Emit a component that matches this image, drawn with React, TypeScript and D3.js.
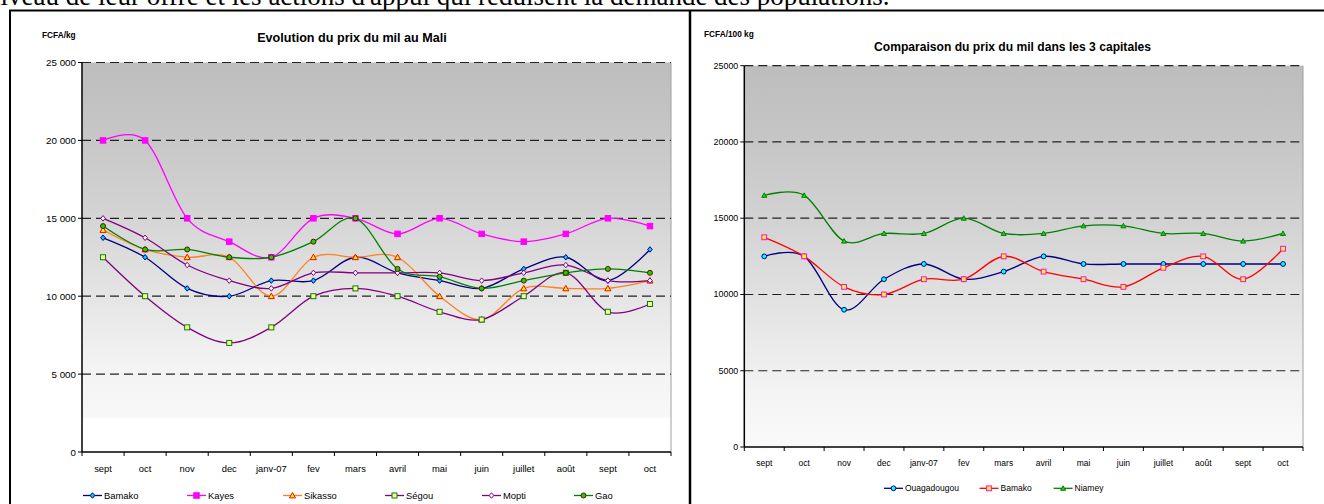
import * as d3 from "d3";

// categories (Sept 2006 -> Oct 2007)
const months = ["sept", "oct", "nov", "dec", "janv-07", "fev", "mars", "avril", "mai", "juin", "juillet", "août", "sept", "oct"];

// Evolution du prix du mil au Mali (FCFA/kg)
const bamako = [13750, 12500, 10500, 10000, 11000, 11000, 12500, 11500, 11000, 10500, 11750, 12500, 11000, 13000];
const kayes = [20000, 20000, 15000, 13500, 12500, 15000, 15000, 14000, 15000, 14000, 13500, 14000, 15000, 14500];
const sikasso = [14250, 13000, 12500, 12500, 10000, 12500, 12500, 12500, 10000, 8500, 10500, 10500, 10500, 11000];
const segou = [12500, 10000, 8000, 7000, 8000, 10000, 10500, 10000, 9000, 8500, 10000, 11500, 9000, 9500];
const mopti = [15000, 13750, 12000, 11000, 10500, 11500, 11500, 11500, 11500, 11000, 11500, 12000, 11000, 11000];
const gao = [14500, 13000, 13000, 12500, 12500, 13500, 15000, 11750, 11250, 10500, 11000, 11500, 11750, 11500];

// Comparaison du prix du mil dans les 3 capitales (FCFA/100 kg)
const ouagadougou = [12500, 12500, 9000, 11000, 12000, 11000, 11500, 12500, 12000, 12000, 12000, 12000, 12000, 12000];
const bamakoCap = [13750, 12500, 10500, 10000, 11000, 11000, 12500, 11500, 11000, 10500, 11750, 12500, 11000, 13000];
const niamey = [16500, 16500, 13500, 14000, 14000, 15000, 14000, 14000, 14500, 14500, 14000, 14000, 13500, 14000];

const yTicks = [0, 5000, 10000, 15000, 20000, 25000];

type Shape = "diamond" | "square" | "triangle" | "circle";
type Series = { name: string; values: number[]; line: string; shape: Shape; fill: string; stroke: string; size: number };

const maliSeries: Series[] = [
  { name: "Bamako", values: bamako, line: "#000080", shape: "diamond", fill: "#00ccff", stroke: "#000080", size: 5.5 },
  { name: "Kayes", values: kayes, line: "#ff00ff", shape: "square", fill: "#ff00ff", stroke: "#ff00ff", size: 5.5 },
  { name: "Sikasso", values: sikasso, line: "#ff8020", shape: "triangle", fill: "#ffff00", stroke: "#ff0000", size: 6 },
  { name: "Ségou", values: segou, line: "#800080", shape: "square", fill: "#ffff99", stroke: "#008000", size: 5 },
  { name: "Mopti", values: mopti, line: "#800080", shape: "diamond", fill: "#ffffff", stroke: "#800080", size: 5.5 },
  { name: "Gao", values: gao, line: "#008000", shape: "circle", fill: "#00dd00", stroke: "#800000", size: 5 },
];

const capSeries: Series[] = [
  { name: "Ouagadougou", values: ouagadougou, line: "#000080", shape: "circle", fill: "#00ffff", stroke: "#000080", size: 4.8 },
  { name: "Bamako", values: bamakoCap, line: "#ff0000", shape: "square", fill: "#ffff00", stroke: "#ff00ff", size: 4.8 },
  { name: "Niamey", values: niamey, line: "#008000", shape: "triangle", fill: "#22cc22", stroke: "#008000", size: 5 },
];

function Marker({ shape, x, y, size, fill, stroke }: { shape: Shape; x: number; y: number; size: number; fill: string; stroke: string }) {
  const r = size / 2;
  if (shape === "circle") return <circle cx={x} cy={y} r={r} fill={fill} stroke={stroke} strokeWidth={1} />;
  if (shape === "square") return <rect x={x - r} y={y - r} width={size} height={size} fill={fill} stroke={stroke} strokeWidth={1} />;
  if (shape === "diamond")
    return <path d={`M${x},${y - r}L${x + r * 0.85},${y}L${x},${y + r}L${x - r * 0.85},${y}Z`} fill={fill} stroke={stroke} strokeWidth={1} />;
  return <path d={`M${x},${y - r}L${x + r},${y + r * 0.8}L${x - r},${y + r * 0.8}Z`} fill={fill} stroke={stroke} strokeWidth={1} />;
}

type ChartCfg = {
  id: string;
  left: number;
  right: number;
  top: number;
  bottom: number;
  series: Series[];
  title: string;
  titleX: number;
  titleY: number;
  titleSize: number;
  unit: string;
  unitX: number;
  unitY: number;
  fontSize: number;
  yFmt: (v: number) => string;
  labelY: number;
  legendY: number;
  legendX: number[];
  whiteBand: number | null;
};

function PriceChart({ cfg }: { cfg: ChartCfg }) {
  const x = d3
    .scaleBand<string>()
    .domain(months.map((_, i) => String(i)))
    .range([cfg.left, cfg.right]);
  const y = d3.scaleLinear().domain([0, 25000]).range([cfg.bottom, cfg.top]);
  const cx = (i: number) => (x(String(i)) as number) + x.bandwidth() / 2;
  const line = d3
    .line<number>()
    .x((_, i) => cx(i))
    .y((d) => y(d))
    .curve(d3.curveCatmullRom.alpha(0));
  const font = "Liberation Sans, Arial, sans-serif";
  const band = cfg.whiteBand;

  return (
    <g>
      <defs>
        <linearGradient id={cfg.id} x1="0" y1="0" x2="0" y2="1">
          <stop offset="0" stopColor="#bdbdbd" />
          <stop offset={band ? 0.2 * band : 0.2} stopColor="#c6c6c6" />
          <stop offset={band ? 0.4 * band : 0.4} stopColor="#d2d2d2" />
          <stop offset={band ? 0.62 * band : 0.62} stopColor="#e2e2e2" />
          <stop offset={band ? 0.85 * band : 0.85} stopColor="#f3f3f3" />
          {band ? <stop offset={band} stopColor="#f8f8f8" /> : null}
          {band ? <stop offset={band} stopColor="#ffffff" /> : null}
          <stop offset="1" stopColor={band ? "#ffffff" : "#fafafa"} />
        </linearGradient>
      </defs>
      <rect x={cfg.left} y={cfg.top} width={cfg.right - cfg.left} height={cfg.bottom - cfg.top} fill={`url(#${cfg.id})`} />
      <line x1={cfg.right} x2={cfg.right} y1={cfg.top} y2={cfg.bottom} stroke="#a0a0a0" strokeWidth={1} />

      {yTicks
        .filter((t) => t > 0)
        .map((t) => (
          <line key={t} x1={cfg.left} x2={cfg.right} y1={y(t)} y2={y(t)} stroke="#222" strokeWidth={1.2} strokeDasharray="9 5" />
        ))}

      {/* axes */}
      <line x1={cfg.left} x2={cfg.left} y1={cfg.top} y2={cfg.bottom} stroke="#000" strokeWidth={1.5} />
      <line x1={cfg.left} x2={cfg.right} y1={cfg.bottom} y2={cfg.bottom} stroke="#000" strokeWidth={1.5} />
      {yTicks.map((t) => (
        <g key={t}>
          <line x1={cfg.left - 4} x2={cfg.left} y1={y(t)} y2={y(t)} stroke="#000" strokeWidth={1} />
          <text x={cfg.left - 6} y={y(t)} textAnchor="end" dominantBaseline="central" fontFamily={font} fontSize={cfg.fontSize} fill="#000">
            {cfg.yFmt(t)}
          </text>
        </g>
      ))}
      {d3.range(months.length + 1).map((i) => {
        const xx = cfg.left + i * x.step();
        return <line key={i} x1={xx} x2={xx} y1={cfg.bottom} y2={cfg.bottom + 4} stroke="#000" strokeWidth={1} />;
      })}
      {months.map((m, i) => (
        <text key={i} x={cx(i)} y={cfg.labelY} textAnchor="middle" dominantBaseline="central" fontFamily={font} fontSize={cfg.fontSize - 0.4} fill="#000">
          {m}
        </text>
      ))}

      {/* series */}
      {cfg.series.map((s) => (
        <g key={s.name}>
          <path d={line(s.values) || ""} fill="none" stroke={s.line} strokeWidth={1.3} />
          {s.values.map((v, i) => (
            <Marker key={i} shape={s.shape} x={cx(i)} y={y(v)} size={s.size} fill={s.fill} stroke={s.stroke} />
          ))}
        </g>
      ))}

      {/* titles */}
      <text x={cfg.titleX} y={cfg.titleY} textAnchor="middle" dominantBaseline="central" fontFamily={font} fontWeight="bold" fontSize={cfg.titleSize}>
        {cfg.title}
      </text>
      <text x={cfg.unitX} y={cfg.unitY} dominantBaseline="central" fontFamily={font} fontWeight="bold" fontSize={8.3}>
        {cfg.unit}
      </text>

      {/* legend */}
      {cfg.series.map((s, i) => {
        const lx = cfg.legendX[i];
        return (
          <g key={s.name}>
            <line x1={lx} x2={lx + 19} y1={cfg.legendY} y2={cfg.legendY} stroke={s.line} strokeWidth={1.3} />
            <Marker shape={s.shape} x={lx + 9.5} y={cfg.legendY} size={s.size} fill={s.fill} stroke={s.stroke} />
            <text x={lx + 21} y={cfg.legendY} dominantBaseline="central" fontFamily={font} fontSize={cfg.fontSize - 0.4}>
              {s.name}
            </text>
          </g>
        );
      })}
    </g>
  );
}

const spaceFmt = (v: number) => d3.format(",")(v).replace(/,/g, " ");

const maliCfg: ChartCfg = {
  id: "gradMali",
  left: 82,
  right: 671,
  top: 62.5,
  bottom: 452,
  series: maliSeries,
  title: "Evolution du prix du mil au Mali",
  titleX: 352,
  titleY: 37.5,
  titleSize: 12.6,
  unit: "FCFA/kg",
  unitX: 42,
  unitY: 35,
  fontSize: 9.8,
  yFmt: spaceFmt,
  labelY: 468.5,
  legendY: 495.5,
  legendX: [83, 187, 283, 385, 482, 574],
  whiteBand: 0.913,
};

const capCfg: ChartCfg = {
  id: "gradCap",
  left: 744.3,
  right: 1303,
  top: 65.7,
  bottom: 447,
  series: capSeries,
  title: "Comparaison du prix du mil dans les 3 capitales",
  titleX: 1012.5,
  titleY: 46.7,
  titleSize: 12.1,
  unit: "FCFA/100 kg",
  unitX: 704,
  unitY: 33.5,
  fontSize: 8.9,
  yFmt: (v) => String(v),
  labelY: 462.7,
  legendY: 488.3,
  legendX: [884, 979.5, 1053.6],
  whiteBand: null,
};

export default function App() {
  return (
    <svg width={1324} height={504} style={{ position: "absolute", left: 0, top: 0, background: "#fff" }}>
      <text x={-13} y={5} fontFamily="Liberation Serif, Times New Roman, serif" fontSize={27}>
        niveau de leur offre et les actions d'appui qui réduisent la demande des populations.
      </text>
      <line x1={9} x2={1324} y1={10.5} y2={10.5} stroke="#000" strokeWidth={2} />
      <line x1={10} x2={10} y1={10} y2={504} stroke="#000" strokeWidth={2} />
      <line x1={690} x2={690} y1={10} y2={504} stroke="#000" strokeWidth={2.5} />
      <PriceChart cfg={maliCfg} />
      <PriceChart cfg={capCfg} />
    </svg>
  );
}
